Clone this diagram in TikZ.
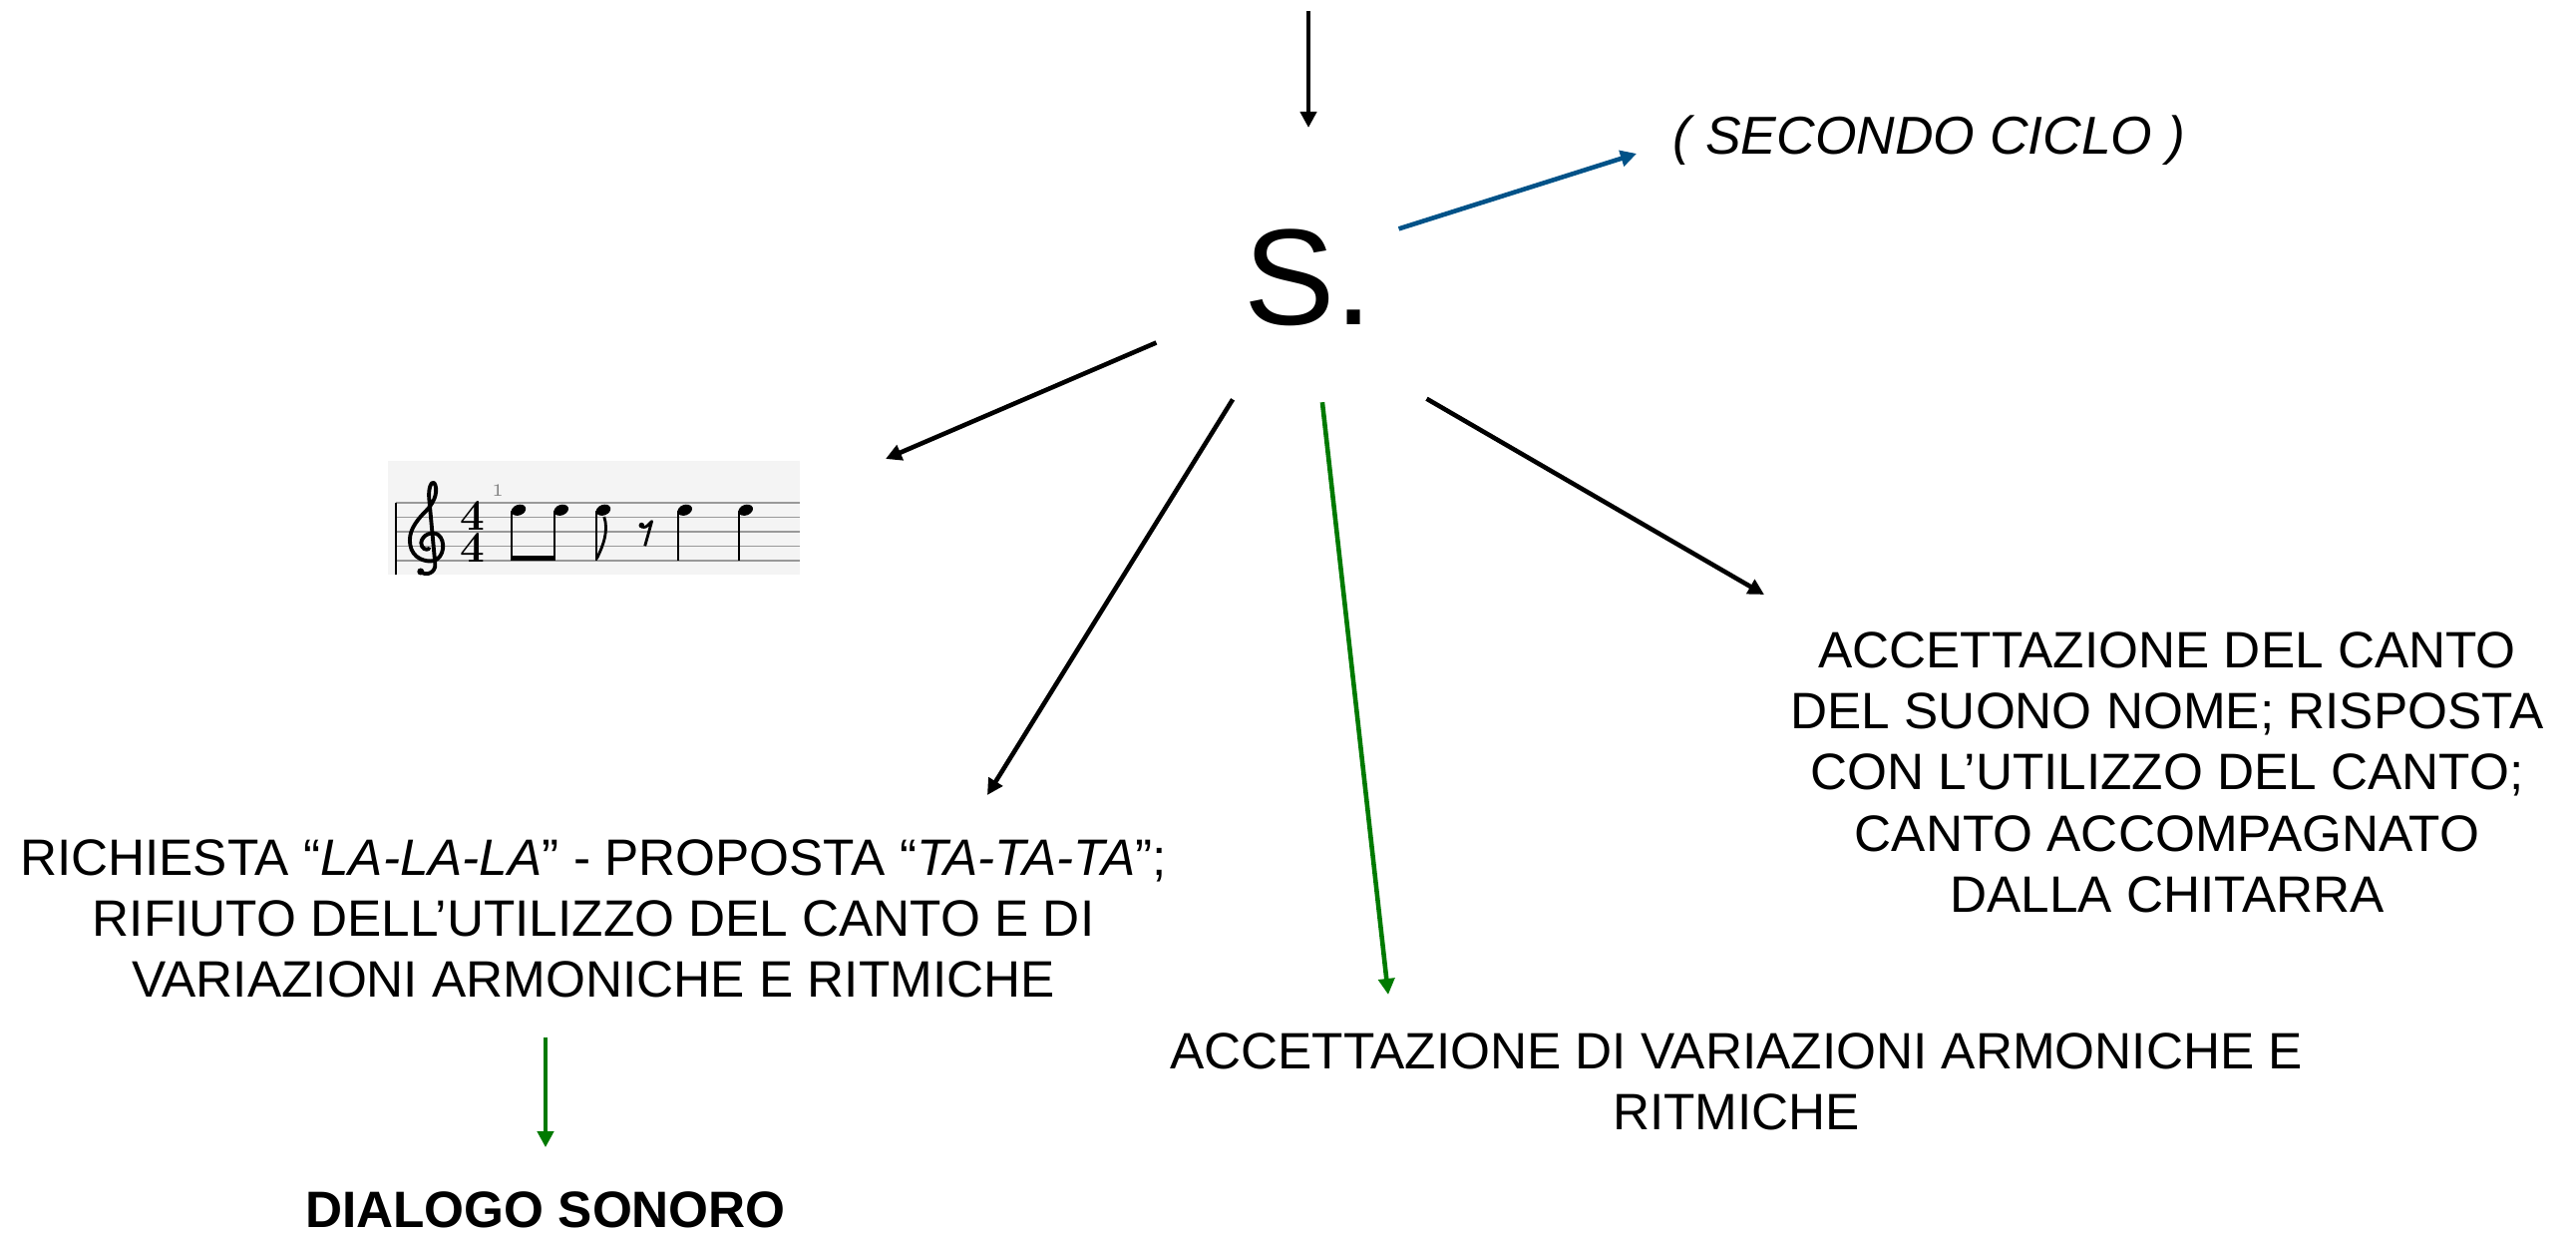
\documentclass[tikz,border=0pt]{standalone}
\usepackage{fontspec}
\setsansfont{Liberation Sans}
\usetikzlibrary{arrows.meta}
\definecolor{cicloblue}{RGB}{0,82,136}
\definecolor{okgreen}{RGB}{0,122,0}
\definecolor{staffbg}{RGB}{244,244,244}
\begin{document}
\begin{tikzpicture}[line join=round, >={Triangle[length=1.6mm,width=1.6mm]},
	txt/.style={inner sep=0pt, align=center, font=\sffamily\fontsize{14.6}{17.4}\selectfont},
	arr/.style={->, line width=1.3pt},
	head/.style={fill=black}]
	\useasboundingbox (0,0) rectangle (25.83,12.38);
	% centre and texts
	\node[txt, font=\sffamily\fontsize{39}{46}\selectfont] (S) at (13.12,9.6) {S.};
	\node[txt, anchor=west, font=\sffamily\fontsize{15.2}{17.4}\selectfont] (ciclo) at (16.77,10.97) {\textit{( SECONDO CICLO )}};
	\node[txt] (sx) at (5.95,3.173) {RICHIESTA “\textit{LA-LA-LA}” - PROPOSTA “\textit{TA-TA-TA}”;\\RIFIUTO DELL’UTILIZZO DEL CANTO E DI\\VARIAZIONI ARMONICHE E RITMICHE};
	\node[txt] (dialog) at (5.47,0.25) {\textbf{DIALOGO SONORO}};
	\node[txt] (giu) at (17.41,1.54) {ACCETTAZIONE DI VARIAZIONI ARMONICHE E\\RITMICHE};
	\node[txt] (dx) at (21.73,4.638) {ACCETTAZIONE DEL CANTO\\DEL SUONO NOME; RISPOSTA\\CON L’UTILIZZO DEL CANTO;\\CANTO ACCOMPAGNATO\\DALLA CHITARRA};
	% arrow tips
	\coordinate (in) at (13.12,12.27);
	\coordinate (tStaff) at (8.88,7.78);
	\coordinate (tSx) at (9.90,4.41);
	\coordinate (tGiu) at (13.92,2.41);
	\coordinate (tDx) at (17.69,6.42);
	\coordinate (tCiclo) at (16.41,10.84);
	\draw[arr, shorten >=1.5cm] (in) -- (S.center);
	\draw[arr, cicloblue, shorten <=0.95cm] ([yshift=0.2cm]S.center) -- (tCiclo);
	\draw[arr, shorten <=1.66cm] (S.center) -- (tStaff);
	\draw[arr, shorten <=1.44cm] (S.center) -- (tSx);
	\draw[arr, okgreen, shorten <=1.26cm] (S.center) -- (tGiu);
	\draw[arr, shorten <=1.37cm] ([yshift=-0.53cm]S.center) -- (tDx);
	\draw[arr, okgreen, shorten <=0.39cm, shorten >=0.44cm] (dialog.north |- sx.south) -- (dialog.north);
	% staff
	\begin{scope}[shift={(3.973,6.76)}]
		\fill[staffbg] (-0.083,-0.145) rectangle (4.047,1.003);
		\clip (-0.083,-0.145) rectangle (4.047,1.003);
		\foreach \y in {0,0.145,0.29,0.435,0.58}\draw[gray!80, line width=0.4pt] (0,\y) -- (4.047,\y);
		\draw[line width=0.6pt] (0,-0.145) -- (0,0.58);
		% clef
		\draw[line width=1.1pt, line cap=round] (0.245,-0.11) .. controls (0.3,-0.16) and (0.40,-0.12) .. (0.39,-0.03)
			-- (0.33,0.62) .. controls (0.32,0.72) and (0.35,0.80) .. (0.38,0.78)
			.. controls (0.42,0.72) and (0.40,0.60) .. (0.30,0.50)
			.. controls (0.18,0.38) and (0.12,0.28) .. (0.14,0.16)
			.. controls (0.16,0.02) and (0.30,-0.02) .. (0.38,0.0)
			.. controls (0.48,0.03) and (0.50,0.20) .. (0.42,0.26)
			.. controls (0.36,0.30) and (0.26,0.26) .. (0.25,0.18)
			.. controls (0.25,0.12) and (0.30,0.10) .. (0.33,0.12);
		\fill (0.245,-0.11) circle (0.035);
		\node[inner sep=0pt, align=center, font=\rmfamily\bfseries\fontsize{12.5}{8.2}\selectfont] (tempo) at (0.77,0.29) {4\\4};
		\node[inner sep=0pt, text=gray, font=\rmfamily\fontsize{5}{5}\selectfont] (bar) at (1.017,0.70) {1};
		\foreach \x in {1.227,1.654,2.077,2.894,3.504}{
			\fill[head, rotate around={20:(\x,0.507)}] (\x,0.507) ellipse (0.075 and 0.053);
			\draw[line width=0.6pt] (\x-0.066,0.5) -- (\x-0.066,0);}
		\fill (1.161,0) rectangle (1.588,0.05);
		\draw[line width=0.8pt] (2.011,0.02) .. controls (2.08,0.16) and (2.13,0.3) .. (2.085,0.44);
		\fill (2.46,0.354) circle (0.028);
		\draw[line width=0.8pt] (2.46,0.34) .. controls (2.5,0.33) .. (2.563,0.394) -- (2.494,0.147);
	\end{scope}
\end{tikzpicture}
\end{document}
